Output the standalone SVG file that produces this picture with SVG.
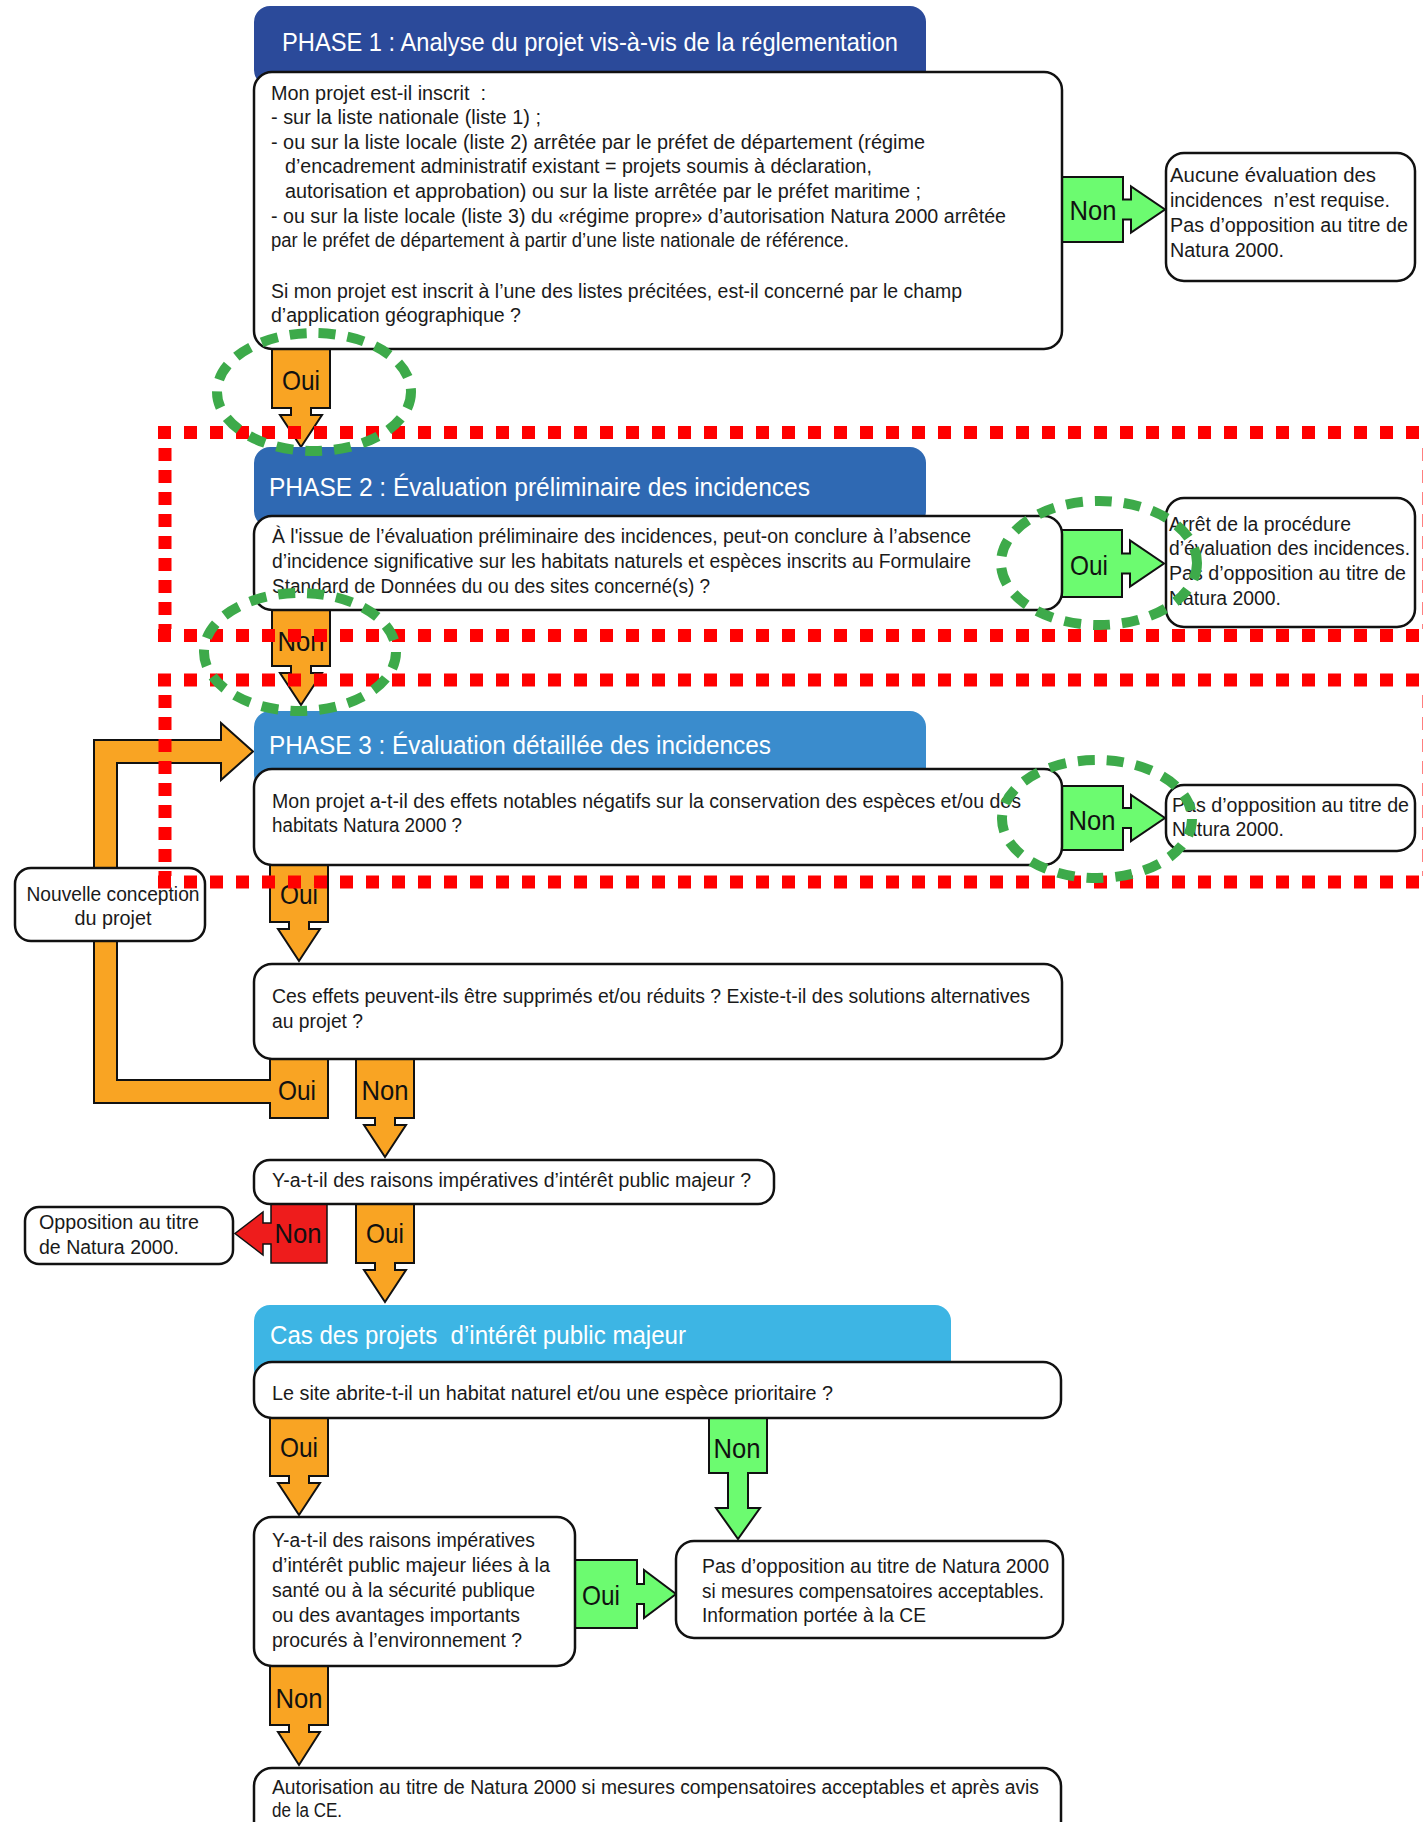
<svg xmlns="http://www.w3.org/2000/svg" width="1423" height="1822" viewBox="0 0 1423 1822">
<style>
text{font-family:"Liberation Sans",Arial,sans-serif;}
.t{font-size:20px;fill:#1a1a1a;}
.h{font-size:26px;fill:#ffffff;}
.l{font-size:28px;fill:#111111;text-anchor:middle;}
.c{text-anchor:middle;}
.box{fill:#ffffff;stroke:#111111;stroke-width:2.5;}
.or{fill:#F9A423;stroke:#111111;stroke-width:2;stroke-linejoin:miter;}
.gr{fill:#6CFB70;stroke:#111111;stroke-width:2;}
.rd{fill:#EE1C1C;stroke:#111111;stroke-width:1.5;}
.rdh{stroke:#FF0000;stroke-width:13;fill:none;stroke-dasharray:13 13;}
.rdv{stroke:#FF0000;stroke-width:13;fill:none;stroke-dasharray:13 9;}
.ge{fill:none;stroke:#3DAA4A;stroke-width:10;stroke-dasharray:17 12;}
</style>

<g id="connectors">
  <g id="a-p1-oui"><path class="or" d="M272,349 H330 V408 H311 V415 H322 L301,447 L280,415 H291 V408 H272 Z"/><text class="l" x="301" y="390" textLength="38" lengthAdjust="spacingAndGlyphs">Oui</text></g>
  <g id="a-p1-non"><path class="gr" d="M1062,177 H1123 V199.5 H1131 V186.5 L1165,209.5 L1131,232.5 V219.5 H1123 V242 H1062 Z"/><text class="l" x="1093" y="220" textLength="47" lengthAdjust="spacingAndGlyphs">Non</text></g>
  <g id="a-p2-oui"><path class="gr" d="M1062,530 H1122 V553.5 H1130 V540.5 L1164,563.5 L1130,586.5 V573.5 H1122 V597 H1062 Z"/><text class="l" x="1089" y="575" textLength="38" lengthAdjust="spacingAndGlyphs">Oui</text></g>
  <g id="a-p2-non"><path class="or" d="M272,610 H330 V666 H311 V673 H322 L301,705 L280,673 H291 V666 H272 Z"/><text class="l" x="301" y="651" textLength="47" lengthAdjust="spacingAndGlyphs">Non</text></g>
  <g id="a-p3-non"><path class="gr" d="M1062,786 H1123 V808 H1131 V795 L1165,818 L1131,841 V828 H1123 V850 H1062 Z"/><text class="l" x="1092" y="830" textLength="47" lengthAdjust="spacingAndGlyphs">Non</text></g>
  <g id="a-p3-oui"><path class="or" d="M270,865 H328 V922 H309 V929 H320 L299,961 L278,929 H289 V922 H270 Z"/><text class="l" x="299" y="904" textLength="38" lengthAdjust="spacingAndGlyphs">Oui</text></g>
  <g id="a-ces-oui"><path class="or" d="M270,1059 H328 V1118 H270 V1103 H94 V740 H221 V723 L253,751.5 L221,780 V763 H117 V1080 H270 Z"/><text class="l" x="297" y="1100" textLength="38" lengthAdjust="spacingAndGlyphs">Oui</text></g>
  <g id="a-ces-non"><path class="or" d="M356,1059 H414 V1118 H395 V1125 H406 L385,1157 L364,1125 H375 V1118 H356 Z"/><text class="l" x="385" y="1100" textLength="47" lengthAdjust="spacingAndGlyphs">Non</text></g>
  <g id="a-irp-non"><path class="rd" d="M327,1204 V1263 H271 V1244 H263 V1255 L235,1233.5 L263,1212 V1223 H271 V1204 Z"/><text class="l" x="298" y="1243" textLength="47" lengthAdjust="spacingAndGlyphs">Non</text></g>
  <g id="a-irp-oui"><path class="or" d="M356,1204 H414 V1263 H395 V1270 H406 L385,1302 L364,1270 H375 V1263 H356 Z"/><text class="l" x="385" y="1243" textLength="38" lengthAdjust="spacingAndGlyphs">Oui</text></g>
  <g id="a-site-oui"><path class="or" d="M270,1418 H328 V1476 H309 V1483 H320 L299,1515 L278,1483 H289 V1476 H270 Z"/><text class="l" x="299" y="1457" textLength="38" lengthAdjust="spacingAndGlyphs">Oui</text></g>
  <g id="a-site-non"><path class="gr" d="M709,1418 H767 V1473 H748 V1508 H760 L738,1539 L716,1508 H728 V1473 H709 Z"/><text class="l" x="737" y="1458" textLength="47" lengthAdjust="spacingAndGlyphs">Non</text></g>
  <g id="a-sante-oui"><path class="gr" d="M575,1560 H637 V1584 H644 V1570 L676,1594 L644,1618 V1604 H637 V1628 H575 Z"/><text class="l" x="601" y="1605" textLength="38" lengthAdjust="spacingAndGlyphs">Oui</text></g>
  <g id="a-sante-non"><path class="or" d="M270,1666 H328 V1725 H309 V1732 H320 L299,1765 L278,1732 H289 V1725 H270 Z"/><text class="l" x="299" y="1708" textLength="47" lengthAdjust="spacingAndGlyphs">Non</text></g>
</g>

<g id="phase1">
  <rect x="254" y="6" width="672" height="80" rx="16" fill="#2B4A9A"/>
  <text class="h" x="282" y="51" textLength="616" lengthAdjust="spacingAndGlyphs">PHASE 1 : Analyse du projet vis-à-vis de la réglementation</text>
  <rect class="box" x="254" y="72" width="808" height="277" rx="18"/>
  <text class="t" x="271" y="100" textLength="215" lengthAdjust="spacingAndGlyphs" xml:space="preserve">Mon projet est-il inscrit  :</text>
  <text class="t" x="271" y="124" textLength="270" lengthAdjust="spacingAndGlyphs">- sur la liste nationale (liste 1) ;</text>
  <text class="t" x="271" y="149" textLength="654" lengthAdjust="spacingAndGlyphs">- ou sur la liste locale (liste 2) arrêtée par le préfet de département (régime</text>
  <text class="t" x="285" y="173" textLength="587" lengthAdjust="spacingAndGlyphs">d’encadrement administratif existant = projets soumis à déclaration,</text>
  <text class="t" x="285" y="198" textLength="636" lengthAdjust="spacingAndGlyphs">autorisation et approbation) ou sur la liste arrêtée par le préfet maritime ;</text>
  <text class="t" x="271" y="223" textLength="735" lengthAdjust="spacingAndGlyphs">- ou sur la liste locale (liste 3) du «régime propre» d’autorisation Natura 2000 arrêtée</text>
  <text class="t" x="271" y="247" textLength="578" lengthAdjust="spacingAndGlyphs">par le préfet de département à partir d’une liste nationale de référence.</text>
  <text class="t" x="271" y="298" textLength="691" lengthAdjust="spacingAndGlyphs">Si mon projet est inscrit à l’une des listes précitées, est-il concerné par le champ</text>
  <text class="t" x="271" y="322" textLength="250" lengthAdjust="spacingAndGlyphs">d’application géographique ?</text>
</g>

<g id="aucune">
  <rect class="box" x="1166" y="153" width="249" height="128" rx="18"/>
  <text class="t" x="1170" y="182" textLength="206" lengthAdjust="spacingAndGlyphs">Aucune évaluation des</text>
  <text class="t" x="1170" y="207" textLength="220" lengthAdjust="spacingAndGlyphs" xml:space="preserve">incidences  n’est requise.</text>
  <text class="t" x="1170" y="232" textLength="238" lengthAdjust="spacingAndGlyphs">Pas d’opposition au titre de</text>
  <text class="t" x="1170" y="257" textLength="114" lengthAdjust="spacingAndGlyphs">Natura 2000.</text>
</g>

<g id="phase2">
  <rect x="254" y="447" width="672" height="80" rx="16" fill="#2F69B3"/>
  <text class="h" x="269" y="496" textLength="541" lengthAdjust="spacingAndGlyphs">PHASE 2 : Évaluation préliminaire des incidences</text>
  <rect class="box" x="254" y="516" width="808" height="94" rx="18"/>
  <text class="t" x="272" y="543" textLength="699" lengthAdjust="spacingAndGlyphs">À l'issue de l’évaluation préliminaire des incidences, peut-on conclure à l’absence</text>
  <text class="t" x="272" y="568" textLength="699" lengthAdjust="spacingAndGlyphs">d’incidence significative sur les habitats naturels et espèces inscrits au Formulaire</text>
  <text class="t" x="272" y="593" textLength="438" lengthAdjust="spacingAndGlyphs">Standard de Données du ou des sites concerné(s) ?</text>
</g>

<g id="arret">
  <rect class="box" x="1166" y="498" width="249" height="129" rx="18"/>
  <text class="t" x="1169" y="531" textLength="182" lengthAdjust="spacingAndGlyphs">Arrêt de la procédure</text>
  <text class="t" x="1169" y="555" textLength="241" lengthAdjust="spacingAndGlyphs">d’évaluation des incidences.</text>
  <text class="t" x="1169" y="580" textLength="237" lengthAdjust="spacingAndGlyphs">Pas d’opposition au titre de</text>
  <text class="t" x="1169" y="605" textLength="112" lengthAdjust="spacingAndGlyphs">Natura 2000.</text>
</g>

<g id="phase3">
  <rect x="254" y="711" width="672" height="80" rx="16" fill="#3A8CCD"/>
  <text class="h" x="269" y="754" textLength="502" lengthAdjust="spacingAndGlyphs">PHASE 3 : Évaluation détaillée des incidences</text>
  <rect class="box" x="254" y="769" width="808" height="96" rx="18"/>
  <text class="t" x="272" y="808" textLength="749" lengthAdjust="spacingAndGlyphs">Mon projet a-t-il des effets notables négatifs sur la conservation des espèces et/ou des</text>
  <text class="t" x="272" y="832" textLength="190" lengthAdjust="spacingAndGlyphs">habitats Natura 2000 ?</text>
</g>

<g id="pas-p3">
  <rect class="box" x="1166" y="785" width="249" height="66" rx="18"/>
  <text class="t" x="1172" y="812" textLength="237" lengthAdjust="spacingAndGlyphs">Pas d’opposition au titre de</text>
  <text class="t" x="1172" y="836" textLength="112" lengthAdjust="spacingAndGlyphs">Natura 2000.</text>
</g>

<g id="nouvelle">
  <rect class="box" x="15" y="868" width="190" height="73" rx="16"/>
  <text class="t c" x="113" y="901" textLength="173" lengthAdjust="spacingAndGlyphs">Nouvelle conception</text>
  <text class="t c" x="113" y="925" textLength="77" lengthAdjust="spacingAndGlyphs">du projet</text>
</g>

<g id="ces-effets">
  <rect class="box" x="254" y="964" width="808" height="95" rx="18"/>
  <text class="t" x="272" y="1003" textLength="758" lengthAdjust="spacingAndGlyphs">Ces effets peuvent-ils être supprimés et/ou réduits ? Existe-t-il des solutions alternatives</text>
  <text class="t" x="272" y="1028" textLength="91" lengthAdjust="spacingAndGlyphs">au projet ?</text>
</g>

<g id="irp">
  <rect class="box" x="254" y="1160" width="520" height="44" rx="16"/>
  <text class="t" x="272" y="1187" textLength="479" lengthAdjust="spacingAndGlyphs">Y-a-t-il des raisons impératives d’intérêt public majeur ?</text>
</g>

<g id="opposition">
  <rect class="box" x="25" y="1207" width="208" height="57" rx="14"/>
  <text class="t" x="39" y="1229" textLength="160" lengthAdjust="spacingAndGlyphs">Opposition au titre</text>
  <text class="t" x="39" y="1254" textLength="140" lengthAdjust="spacingAndGlyphs">de Natura 2000.</text>
</g>

<g id="cas">
  <rect x="254" y="1305" width="697" height="80" rx="16" fill="#3DB5E4"/>
  <text class="h" x="270" y="1344" textLength="416" lengthAdjust="spacingAndGlyphs" xml:space="preserve">Cas des projets  d’intérêt public majeur</text>
  <rect class="box" x="254" y="1362" width="807" height="56" rx="18"/>
  <text class="t" x="272" y="1400" textLength="561" lengthAdjust="spacingAndGlyphs">Le site abrite-t-il un habitat naturel et/ou une espèce prioritaire ?</text>
</g>

<g id="sante">
  <rect class="box" x="254" y="1517" width="321" height="149" rx="18"/>
  <text class="t" x="272" y="1547" textLength="263" lengthAdjust="spacingAndGlyphs">Y-a-t-il des raisons impératives</text>
  <text class="t" x="272" y="1572" textLength="278" lengthAdjust="spacingAndGlyphs">d’intérêt public majeur liées à la</text>
  <text class="t" x="272" y="1597" textLength="263" lengthAdjust="spacingAndGlyphs">santé ou à la sécurité publique</text>
  <text class="t" x="272" y="1622" textLength="248" lengthAdjust="spacingAndGlyphs">ou des avantages importants</text>
  <text class="t" x="272" y="1647" textLength="250" lengthAdjust="spacingAndGlyphs">procurés à l’environnement ?</text>
</g>

<g id="pas-ce">
  <rect class="box" x="676" y="1541" width="387" height="97" rx="18"/>
  <text class="t" x="702" y="1573" textLength="347" lengthAdjust="spacingAndGlyphs">Pas d’opposition au titre de Natura 2000</text>
  <text class="t" x="702" y="1598" textLength="342" lengthAdjust="spacingAndGlyphs">si mesures compensatoires acceptables.</text>
  <text class="t" x="702" y="1622" textLength="224" lengthAdjust="spacingAndGlyphs">Information portée à la CE</text>
</g>

<g id="autorisation">
  <rect class="box" x="254" y="1768" width="807" height="80" rx="18"/>
  <text class="t" x="272" y="1794" textLength="767" lengthAdjust="spacingAndGlyphs">Autorisation au titre de Natura 2000 si mesures compensatoires acceptables et après avis</text>
  <text class="t" x="272" y="1817" textLength="70" lengthAdjust="spacingAndGlyphs">de la CE.</text>
</g>

<g id="annotations">
  <line class="rdh" x1="158" y1="432.5" x2="1430" y2="432.5"/>
  <line class="rdh" x1="158" y1="635.5" x2="1430" y2="635.5"/>
  <line class="rdv" x1="165" y1="448" x2="165" y2="629"/>
  <line class="rdv" x1="1429" y1="448" x2="1429" y2="629"/>
  <line class="rdh" x1="158" y1="680" x2="1430" y2="680"/>
  <line class="rdh" x1="158" y1="882" x2="1430" y2="882"/>
  <line class="rdv" x1="165" y1="695" x2="165" y2="876"/>
  <line class="rdv" x1="1429" y1="695" x2="1429" y2="876"/>
  <ellipse class="ge" cx="314" cy="392" rx="97" ry="59"/>
  <ellipse class="ge" cx="1099" cy="563" rx="98" ry="62"/>
  <ellipse class="ge" cx="300" cy="652" rx="96" ry="59"/>
  <ellipse class="ge" cx="1097" cy="819" rx="95" ry="59"/>
</g>
</svg>
